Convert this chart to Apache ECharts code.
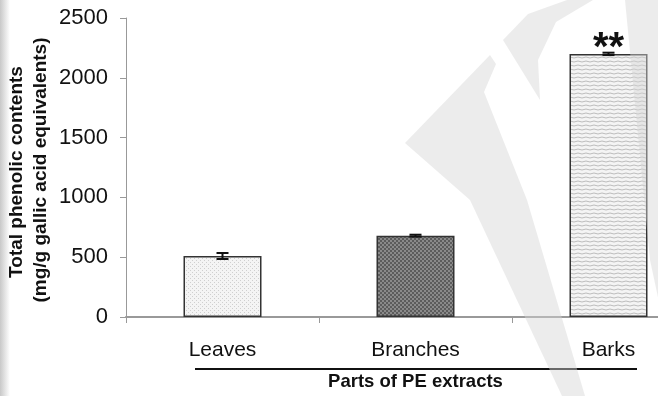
<!DOCTYPE html>
<html><head><meta charset="utf-8">
<script src="https://cdn.jsdelivr.net/npm/echarts@6/dist/echarts.min.js"></script>
<style>html,body{margin:0;padding:0;background:#fff;overflow:hidden;width:658px;height:396px}#c{width:705px;height:396px}</style>
</head><body><div id="c"></div>
<script>
const categories = ['Leaves', 'Branches', 'Barks'];
const values = [510, 680, 2200];
const errors = [25, 8, 10];
const significance = ['', '', '**'];
const yTicks = [0, 500, 1000, 1500, 2000, 2500];

function makePattern(kind) {
  const c = document.createElement('canvas');
  const ctx = c.getContext('2d');
  if (kind === 0) {
    c.width = 4; c.height = 4;
    ctx.fillStyle = '#f4f4f4'; ctx.fillRect(0, 0, 4, 4);
    ctx.fillStyle = '#cfcfcf'; ctx.fillRect(0, 0, 1, 1); ctx.fillRect(2, 2, 1, 1);
  } else if (kind === 1) {
    c.width = 4; c.height = 4;
    ctx.fillStyle = '#8a8a8a'; ctx.fillRect(0, 0, 4, 4);
    ctx.fillStyle = '#5c5c5c'; ctx.fillRect(0, 0, 2, 2); ctx.fillRect(2, 2, 2, 2);
  } else {
    c.width = 8; c.height = 4;
    ctx.fillStyle = '#f4f4f4'; ctx.fillRect(0, 0, 8, 4);
    ctx.strokeStyle = '#bcbcbc'; ctx.lineWidth = 1;
    ctx.beginPath(); ctx.moveTo(0, 1.5); ctx.quadraticCurveTo(2, 0.5, 4, 1.5); ctx.quadraticCurveTo(6, 2.5, 8, 1.5); ctx.stroke();
  }
  return { image: c, repeat: 'repeat' };
}

const chart = echarts.init(document.getElementById('c'), null, { renderer: 'canvas' });
const barData = values.map((v, i) => ({
  value: v,
  itemStyle: { color: makePattern(i) },
  label: significance[i] ? { show: true, formatter: significance[i] } : { show: false }
}));

const wm = 'rgba(212,212,212,0.45)';
chart.setOption({
  animation: false,
  backgroundColor: '#fff',
  grid: { left: 126, top: 18, right: 0, height: 300, containLabel: false },
  xAxis: {
    type: 'category', data: categories,
    axisLine: { lineStyle: { color: '#999', width: 2 } },
    axisTick: { show: true, length: 6, lineStyle: { color: '#999', width: 1 } },
    axisLabel: { color: '#111', fontFamily: 'Liberation Sans, Arial', fontSize: 21, margin: 23 },
    name: 'Parts of PE extracts', nameLocation: 'middle', nameGap: 55,
    nameTextStyle: { color: '#111', fontFamily: 'Liberation Sans, Arial', fontSize: 18.5, fontWeight: 'bold' }
  },
  yAxis: {
    type: 'value', min: 0, max: 2500, interval: 500,
    axisLine: { show: true, lineStyle: { color: '#999', width: 1 } },
    axisTick: { show: true, length: 6, lineStyle: { color: '#999' } },
    splitLine: { show: false },
    axisLabel: { color: '#111', fontFamily: 'Liberation Sans, Arial', fontSize: 22, margin: 18,
      formatter: v => yTicks.includes(v) ? String(v) : '' }
  },
  graphic: [
    { type: 'rect', left: 0, top: 0, shape: { width: 10, height: 396 }, z: -10,
      style: { fill: new echarts.graphic.LinearGradient(0, 0, 1, 0, [{ offset: 0, color: '#c8c8c8' }, { offset: 1, color: '#ffffff' }]) } },
    { type: 'text', x: 17, y: 172, rotation: Math.PI / 2, z: 10,
      style: { text: 'Total phenolic contents', fill: '#111', font: 'bold 19px "Liberation Sans", Arial', textAlign: 'center', textVerticalAlign: 'middle' } },
    { type: 'text', x: 41, y: 170, rotation: Math.PI / 2, z: 10,
      style: { text: '(mg/g gallic acid equivalents)', fill: '#111', font: 'bold 19px "Liberation Sans", Arial', textAlign: 'center', textVerticalAlign: 'middle' } },
    { type: 'line', shape: { x1: 195, y1: 369, x2: 637, y2: 369 }, style: { stroke: '#111', lineWidth: 2 } },
    { type: 'polygon', z: 100, silent: true,
      shape: { points: [[405, 143], [490, 55], [496, 64], [484, 92], [527, 200], [585, 396], [562, 396], [470, 200]] },
      style: { fill: wm } },
    { type: 'polygon', z: 100, silent: true, smooth: 0.3,
      shape: { points: [[503, 40], [528, 14], [567, 0], [593, 0], [556, 22], [538, 60], [540, 100]] },
      style: { fill: wm } },
    { type: 'polygon', z: 100, silent: true,
      shape: { points: [[625, 0], [665, 0], [665, 330], [650, 260]] },
      style: { fill: wm } }
  ],
  series: [
    {
      type: 'bar', data: barData, barWidth: 78,
      itemStyle: { borderColor: '#333', borderWidth: 1.5 },
      label: { position: 'top', distance: 0, offset: [0, 15], color: '#111', fontFamily: 'Liberation Sans, Arial', fontSize: 40, fontWeight: 'bold' },
      z: 2
    },
    {
      type: 'custom', z: 5,
      data: values.map((v, i) => [i, v - errors[i], v + errors[i]]),
      renderItem: function (params, api) {
        const lo = api.coord([api.value(0), api.value(1)]);
        const hi = api.coord([api.value(0), api.value(2)]);
        const hw = 6;
        const st = { stroke: '#111', lineWidth: 2 };
        return { type: 'group', children: [
          { type: 'line', shape: { x1: lo[0], y1: lo[1], x2: hi[0], y2: hi[1] }, style: st },
          { type: 'line', shape: { x1: lo[0] - hw, y1: lo[1], x2: lo[0] + hw, y2: lo[1] }, style: st },
          { type: 'line', shape: { x1: hi[0] - hw, y1: hi[1], x2: hi[0] + hw, y2: hi[1] }, style: st }
        ] };
      }
    }
  ]
});
</script></body></html>
